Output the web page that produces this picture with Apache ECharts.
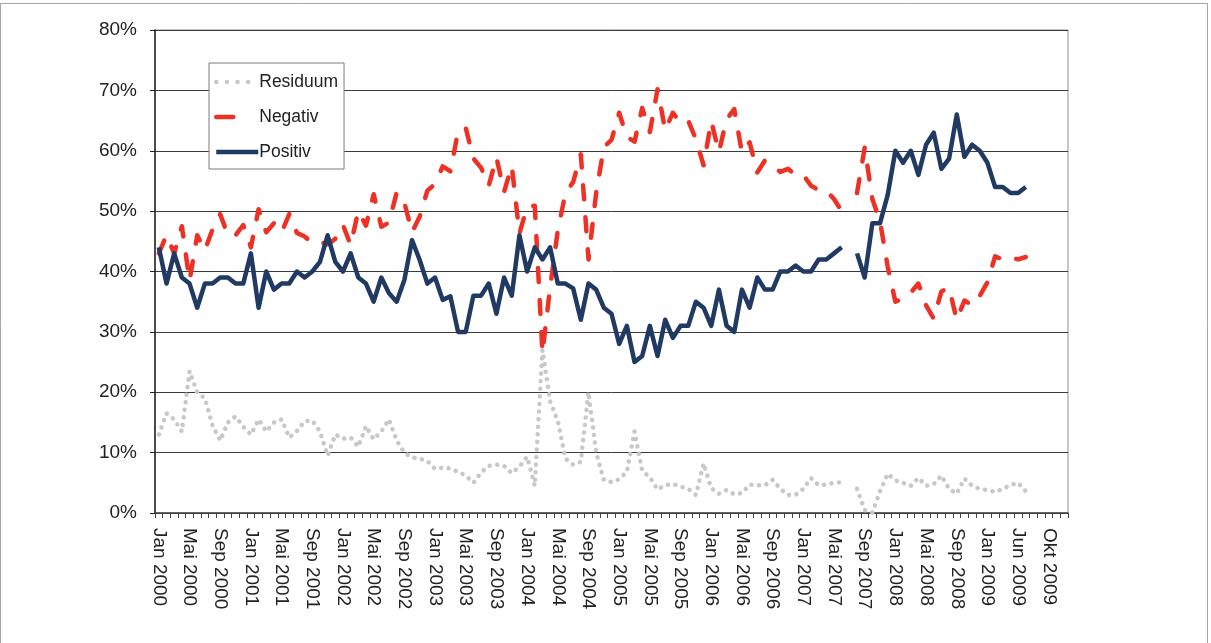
<!DOCTYPE html>
<html>
<head>
<meta charset="utf-8">
<script src="https://cdn.jsdelivr.net/npm/echarts@6/dist/echarts.min.js"></script>
<style>
  html, body { margin: 0; padding: 0; background: #fff; }
  #chart { width: 1211px; height: 643px; }
</style>
</head>
<body>
<div id="chart"></div>
<script>
// Monatskategorien (im Jahr 2009 fehlt ein Monat, daher "Jun 2009")
var months = [
  'Jan 2000','Feb 2000','Mär 2000','Apr 2000','Mai 2000','Jun 2000','Jul 2000','Aug 2000','Sep 2000','Okt 2000','Nov 2000','Dez 2000',
  'Jan 2001','Feb 2001','Mär 2001','Apr 2001','Mai 2001','Jun 2001','Jul 2001','Aug 2001','Sep 2001','Okt 2001','Nov 2001','Dez 2001',
  'Jan 2002','Feb 2002','Mär 2002','Apr 2002','Mai 2002','Jun 2002','Jul 2002','Aug 2002','Sep 2002','Okt 2002','Nov 2002','Dez 2002',
  'Jan 2003','Feb 2003','Mär 2003','Apr 2003','Mai 2003','Jun 2003','Jul 2003','Aug 2003','Sep 2003','Okt 2003','Nov 2003','Dez 2003',
  'Jan 2004','Feb 2004','Mär 2004','Apr 2004','Mai 2004','Jun 2004','Jul 2004','Aug 2004','Sep 2004','Okt 2004','Nov 2004','Dez 2004',
  'Jan 2005','Feb 2005','Mär 2005','Apr 2005','Mai 2005','Jun 2005','Jul 2005','Aug 2005','Sep 2005','Okt 2005','Nov 2005','Dez 2005',
  'Jan 2006','Feb 2006','Mär 2006','Apr 2006','Mai 2006','Jun 2006','Jul 2006','Aug 2006','Sep 2006','Okt 2006','Nov 2006','Dez 2006',
  'Jan 2007','Feb 2007','Mär 2007','Apr 2007','Mai 2007','Jun 2007','Jul 2007','Aug 2007','Sep 2007','Okt 2007','Nov 2007','Dez 2007',
  'Jan 2008','Feb 2008','Mär 2008','Apr 2008','Mai 2008','Jun 2008','Jul 2008','Aug 2008','Sep 2008','Okt 2008','Nov 2008','Dez 2008',
  'Jan 2009','Mär 2009','Apr 2009','Mai 2009','Jun 2009','Jul 2009','Aug 2009','Sep 2009','Okt 2009','Nov 2009','Dez 2009'
];

var residuum = [
  13,16.5,15.5,13.5,23.5,20,19,14.5,12,15,
  16,14.3,13,15.5,13.5,15,15.5,12.5,13.6,15.2,
  15.3,13.5,9.5,13,12.3,12.5,11,14.4,12.2,13.5,
  15.5,12,10,9.2,9,8.6,7.3,7.5,7.4,6.8,
  6.2,5,6.7,7.8,8,7.8,6.6,7.7,9.3,4.5,
  27,18.5,15.2,9,8,8.5,20,10,5.5,5.1,
  5.6,6.8,13.5,7,5.9,3.9,4.6,4.8,4.4,4,
  3,8.2,4.1,3.2,3.8,3.1,3.3,4.7,4.6,4.6,
  5.5,4,3,3,4,5.8,4.6,4.7,5,5.1,
  null,4,0.5,0.1,3.6,6.5,5.4,5,4.5,5.8,
  4.5,4.8,6.2,4,3.2,5.7,4.5,4,3.8,3.5,
  4,4.6,5,3.6
];

var negativ = [
  43,46,43,47.5,38.5,46,43.5,47,49.5,46,
  46,47.7,44,50.3,46.5,48,46.5,49.5,46.4,45.8,
  44.7,44.9,44.5,45.4,47.7,44.4,50,47.6,52.8,47.4,
  48.1,53.1,51.4,46.5,49.1,53.4,54.5,57.4,56.6,63.2,
  63.8,58.7,57.2,54.2,58.9,53.2,57.5,46.3,50.7,50.9,
  26.5,37.4,46.8,53,54.8,59.4,42,53,60.6,61.8,
  66.3,62.3,61.5,67.1,63.1,70.2,63.4,66.3,64.6,65,
  61.9,57.6,64.9,59.8,65.2,66.9,59.7,61.4,56.4,58.4,
  57.5,56.5,57,56,56,54.2,53.5,53.4,52,50,
  null,53,60.5,52,48.3,40.8,35,35.5,36.5,38,
  34.4,32.2,36.7,37.3,32,35.2,34.4,36,38.2,42.5,
  42,42.4,42,42.4
];

var positiv = [
  44,38,43,39,38,34,38,38,39,39,
  38,38,43,34,40,37,38,38,40,39,
  40,41.6,46,41.6,40,43,39,38,35,39,
  36.4,35,38.6,45.2,41.9,38,39,35.3,35.9,30,
  30,36,36,38,33,39,36,46,40,44,
  42,44,38,38,37.2,32,38,37,34,33,
  28,31,25,26,31,26,32,29,31,31,
  35,34,31,37,31,30,37,34,39,37,
  37,40,40,41,40,40,42,42,43,44,
  null,43,39,48,48,52.7,60,58,60,56,
  61,63,57,58.7,66,59,61,60,58,54,
  54,53,53,54
];

var font = 'Liberation Sans';
var chart = echarts.init(document.getElementById('chart'));
chart.setOption({
  animation: false,
  backgroundColor: '#fff',
  textStyle: { fontFamily: font, color: '#222' },
  graphic: [{
    type: 'rect',
    shape: { x: 0.5, y: 3.5, width: 1207, height: 660 },
    style: { fill: 'none', stroke: '#a6a6a6', lineWidth: 1 },
    silent: true
  }],
  grid: {
    left: 155, right: 143, top: 30, bottom: 130,
    show: true, borderColor: '#8c8c8c', borderWidth: 1
  },
  legend: {
    orient: 'vertical',
    left: 209, top: 63,
    padding: [10, 6, 8, 5],
    itemGap: 17,
    itemWidth: 42,
    itemHeight: 14,
    backgroundColor: '#fff',
    borderColor: '#7a7a7a',
    borderWidth: 1,
    itemStyle: { opacity: 0, borderWidth: 0 },
    lineStyle: { width: 4.5 },
    textStyle: { fontFamily: font, fontSize: 17.5, color: '#222', padding: [0, 0, 0, -4] },
    data: [
      { name: 'Residuum', lineStyle: { type: [0.1, 10.5], cap: 'round' } },
      { name: 'Negativ', lineStyle: { type: [17, 40], cap: 'round' } },
      { name: 'Positiv' }
    ]
  },
  xAxis: {
    type: 'category',
    data: months,
    boundaryGap: true,
    axisLine: { lineStyle: { color: '#444', width: 1.5 } },
    axisTick: { show: true, interval: 0, length: 5, lineStyle: { color: '#444' } },
    axisLabel: {
      interval: 3,
      rotate: -90,
      margin: 15,
      fontFamily: font,
      fontSize: 19,
      color: '#222'
    }
  },
  yAxis: {
    type: 'value',
    min: 0, max: 80, interval: 10,
    axisLine: { show: true, lineStyle: { color: '#222', width: 1.5 } },
    axisTick: { show: true, length: 5, lineStyle: { color: '#222' } },
    axisLabel: { formatter: '{value}%', margin: 18, fontFamily: font, fontSize: 19, color: '#222' },
    splitLine: { lineStyle: { color: '#3a3a3a', width: 1 } }
  },
  series: [
    {
      name: 'Residuum',
      type: 'line',
      data: residuum,
      showSymbol: false,
      symbol: 'none',
      connectNulls: false,
      itemStyle: { color: '#c8c8c8' },
      lineStyle: { color: '#c8c8c8', width: 4.5, type: [0.1, 7.5], cap: 'round', join: 'round' }
    },
    {
      name: 'Negativ',
      type: 'line',
      data: negativ,
      showSymbol: false,
      symbol: 'none',
      connectNulls: false,
      itemStyle: { color: '#ee3124' },
      lineStyle: { color: '#ee3124', width: 4.5, type: [14, 18], cap: 'round', join: 'round' }
    },
    {
      name: 'Positiv',
      type: 'line',
      data: positiv,
      showSymbol: false,
      symbol: 'none',
      connectNulls: false,
      itemStyle: { color: '#213a63' },
      lineStyle: { color: '#213a63', width: 4.5, join: 'round' }
    }
  ]
});
</script>
</body>
</html>
